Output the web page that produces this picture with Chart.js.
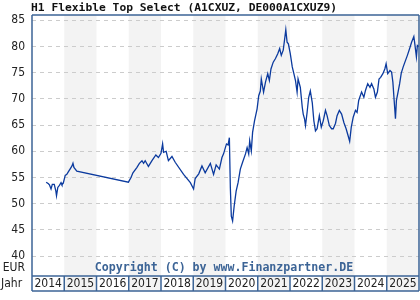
<!DOCTYPE html>
<html>
<head>
<meta charset="utf-8">
<script src="https://cdn.jsdelivr.net/npm/chart.js@4"></script>
<style>
  html, body { margin: 0; padding: 0; background: #fff; }
  canvas { display: block; }
</style>
</head>
<body>
<canvas id="chart" width="420" height="300"></canvas>
<script>
const title = 'H1 Flexible Top Select (A1CXUZ, DE000A1CXUZ9)';
const copyright = 'Copyright (C) by www.Finanzpartner.DE';
const unitLabel = 'EUR';
const yearLabel = 'Jahr';
const years = [2014, 2015, 2016, 2017, 2018, 2019, 2020, 2021, 2022, 2023, 2024, 2025];
const yTicks = [40, 45, 50, 55, 60, 65, 70, 75, 80, 85];

// decimal year of each price point
const dates = [
  2014.44, 2014.51, 2014.54, 2014.59, 2014.63, 2014.69, 2014.74, 2014.76, 2014.80, 2014.85, 2014.90, 2014.93, 2014.97,
  2015.03, 2015.08, 2015.13, 2015.18, 2015.24, 2015.27, 2015.30, 2015.39,
  2016.99,
  2017.07, 2017.13, 2017.25, 2017.33, 2017.41, 2017.46, 2017.51, 2017.61, 2017.72, 2017.84, 2017.92, 2018.00,
  2018.05, 2018.08, 2018.16, 2018.23, 2018.34, 2018.44, 2018.70, 2018.91,
  2019.01, 2019.06, 2019.17, 2019.27, 2019.37, 2019.53, 2019.63, 2019.71, 2019.81, 2019.89, 2019.94,
  2020.03, 2020.08, 2020.12, 2020.15, 2020.18, 2020.22, 2020.27, 2020.33, 2020.39, 2020.46, 2020.53, 2020.62,
  2020.67, 2020.72, 2020.75, 2020.80, 2020.84, 2020.90, 2020.98,
  2021.03, 2021.08, 2021.11, 2021.18, 2021.24, 2021.31, 2021.36, 2021.41, 2021.48, 2021.55, 2021.62, 2021.68,
  2021.73, 2021.79, 2021.83, 2021.87, 2021.91, 2021.95,
  2022.01, 2022.07, 2022.12, 2022.17, 2022.22, 2022.25, 2022.32, 2022.38, 2022.41, 2022.45, 2022.48, 2022.53,
  2022.58, 2022.63, 2022.69, 2022.74, 2022.79, 2022.84, 2022.91, 2022.97,
  2023.03, 2023.10, 2023.15, 2023.22, 2023.29, 2023.34, 2023.41, 2023.46, 2023.53, 2023.60, 2023.67, 2023.74,
  2023.80, 2023.85, 2023.90, 2023.96,
  2024.03, 2024.08, 2024.13, 2024.22, 2024.29, 2024.34, 2024.41, 2024.48, 2024.53, 2024.60, 2024.65, 2024.71,
  2024.76, 2024.81, 2024.88, 2024.94, 2024.98,
  2025.03, 2025.10, 2025.15, 2025.19, 2025.23, 2025.27, 2025.30, 2025.35, 2025.40, 2025.45, 2025.51, 2025.58,
  2025.64, 2025.71, 2025.77, 2025.84, 2025.87, 2025.92, 2025.95, 2026.00
];
const navs = [
  54.1, 53.8, 53.6, 52.8, 53.7, 53.7, 52.4, 51.5, 53.1, 53.5, 54.0, 53.6, 53.9,
  55.4, 55.6, 56.1, 56.6, 57.2, 57.7, 56.9, 56.2,
  54.1,
  55.0, 55.9, 56.9, 57.7, 58.2, 57.7, 58.2, 57.1, 58.2, 59.3, 58.8, 59.6,
  61.4, 59.8, 60.0, 58.2, 59.0, 57.9, 55.6, 54.0,
  52.8, 54.8, 55.7, 57.2, 55.9, 57.7, 55.6, 57.4, 56.6, 58.8, 59.5,
  61.4, 61.2, 62.6, 53.1, 47.6, 46.7, 49.6, 52.4, 54.0, 56.6, 57.9, 59.5,
  60.7, 59.5, 62.0, 60.1, 63.6, 65.8, 68.1,
  70.6, 71.5, 73.8, 71.3, 73.2, 74.8, 73.5, 75.7, 77.0, 77.7, 78.6, 79.6,
  78.3, 79.3, 81.2, 83.2, 80.8, 80.5,
  78.6, 76.1, 74.8, 73.5, 71.3, 73.8, 72.2, 68.4, 67.1, 66.2, 64.9, 67.4,
  70.3, 71.5, 69.3, 65.8, 63.9, 64.3, 66.8, 64.6,
  65.8, 67.8, 66.8, 64.9, 64.3, 64.3, 65.3, 66.8, 67.8, 67.1, 65.5, 64.3,
  63.0, 61.9, 64.6, 66.5,
  67.8, 67.4, 69.7, 71.3, 70.3, 71.6, 72.9, 72.2, 72.9, 71.9, 70.3, 71.3,
  73.8, 74.1, 74.8, 75.7, 76.7,
  74.8, 75.4, 75.1, 73.2, 69.7, 66.2, 69.7, 71.3, 72.9, 74.9, 76.1, 77.3,
  78.3, 79.6, 80.8, 81.9, 80.5, 78.0, 80.2, 80.0
];

const frameBlue = '#3c6496';
const boxBottom = 291;
const labelFont = '12px "Liberation Sans Narrow", "DejaVu Sans Condensed", "Liberation Sans", sans-serif';

const framePlugin = {
  id: 'frame',
  beforeDraw(chart) {
    const { ctx, chartArea: a, scales: { x } } = chart;
    ctx.save();
    ctx.fillStyle = '#fff';
    ctx.fillRect(0, 0, chart.width, chart.height);
    ctx.fillStyle = '#f3f3f3';
    years.forEach(yr => {
      if (yr % 2 === 1) {
        const l = x.getPixelForValue(yr);
        const r = x.getPixelForValue(yr + 1);
        ctx.fillRect(l, a.top, r - l, boxBottom - a.top);
      }
    });
    ctx.restore();
  },
  afterDraw(chart) {
    const { ctx, chartArea: a, scales: { x } } = chart;
    ctx.save();

    // frame and year boxes below the plot
    ctx.strokeStyle = frameBlue;
    ctx.lineWidth = 1.5;
    ctx.beginPath();
    ctx.moveTo(a.left, a.top); ctx.lineTo(a.right, a.top);
    ctx.moveTo(a.left, a.bottom); ctx.lineTo(a.right, a.bottom);
    ctx.moveTo(a.left, boxBottom); ctx.lineTo(a.right, boxBottom);
    years.forEach(yr => {
      const px = x.getPixelForValue(yr);
      ctx.moveTo(px, a.bottom); ctx.lineTo(px, boxBottom);
    });
    ctx.moveTo(a.left, a.top); ctx.lineTo(a.left, boxBottom);
    ctx.moveTo(a.right, a.top); ctx.lineTo(a.right, boxBottom);
    ctx.stroke();

    ctx.fillStyle = '#222';
    ctx.font = labelFont;
    ctx.textBaseline = 'middle';
    ctx.textAlign = 'center';
    years.forEach(yr => {
      ctx.fillText(String(yr), x.getPixelForValue(yr + 0.5), (a.bottom + boxBottom) / 2 + 0.5);
    });
    ctx.textAlign = 'left';
    ctx.fillText(yearLabel, 1, (a.bottom + boxBottom) / 2 + 0.5);
    ctx.textAlign = 'right';
    ctx.fillText(unitLabel, 25, 268);

    // title
    ctx.fillStyle = '#111';
    ctx.textAlign = 'left';
    ctx.font = 'bold 11.3px "DejaVu Sans Mono", "Liberation Mono", monospace';
    ctx.fillText(title, 31, 8);

    // copyright
    ctx.fillStyle = frameBlue;
    ctx.textAlign = 'center';
    ctx.font = 'bold 11.6px "DejaVu Sans Mono", "Liberation Mono", monospace';
    ctx.fillText(copyright, 224, 268);
    ctx.restore();
  }
};

new Chart(document.getElementById('chart').getContext('2d'), {
  type: 'line',
  data: {
    datasets: [{
      data: dates.map((d, i) => ({ x: d, y: navs[i] })),
      borderColor: '#0b3a9e',
      borderWidth: 1.3,
      pointRadius: 0,
      tension: 0,
      fill: false
    }]
  },
  options: {
    responsive: false,
    animation: false,
    layout: { padding: { top: 15, right: 1, left: 0, bottom: 0 } },
    plugins: {
      legend: { display: false },
      tooltip: { enabled: false },
      title: { display: false }
    },
    scales: {
      x: {
        type: 'linear',
        min: 2014,
        max: 2026,
        grid: { display: false, drawTicks: false },
        border: { display: false },
        ticks: { display: false },
        afterFit(scale) { scale.height = 24; }
      },
      y: {
        min: 36.2,
        max: 86,
        afterBuildTicks(scale) { scale.ticks = yTicks.map(v => ({ value: v })); },
        afterFit(scale) { scale.width = 32; },
        grid: { color: '#cccccc', lineWidth: 1, drawTicks: false },
        border: { display: false, dash: [4, 4] },
        ticks: {
          padding: 7,
          color: '#222',
          font: { family: '"Liberation Sans Narrow", "DejaVu Sans Condensed", "Liberation Sans", sans-serif', size: 12 }
        }
      }
    }
  },
  plugins: [framePlugin]
});
</script>
</body>
</html>
